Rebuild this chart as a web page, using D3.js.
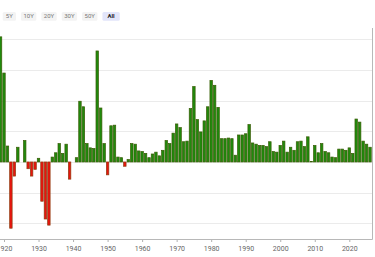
<!DOCTYPE html>
<html lang="en">
<head>
<meta charset="utf-8">
<style>
  body { margin: 0; background: #fff; font-family: Roboto, "Noto Sans", sans-serif; }
  svg { display: block; }
  .grid line { stroke: #ebebeb; stroke-width: 1; }
  .x.axis line { stroke: #b0b0b0; }
  .x.axis text { fill: #666; font-size: 7px; font-family: Roboto, sans-serif; }
  .baseline, .edge { stroke: #b8b8b8; stroke-width: 1; }
  .btn text { font-size: 6px; fill: #777; font-family: Roboto, sans-serif; }
  .btn.active text { fill: #222; font-weight: bold; }
</style>
</head>
<body>
<svg id="chart" width="375" height="257"></svg>
<script src="https://cdn.jsdelivr.net/npm/d3@7"></script>
<script>
// annual change, % (Dec to Dec), dated at year end
var years = d3.range(1918, 2026);
var values = [
  20.4, 14.5, 2.6, -10.8, -2.3, 2.4, 0.0, 3.5, -1.1, -2.3,
  -1.2, 0.6, -6.4, -9.3, -10.3, 0.8, 1.5, 3.0, 1.4, 2.9,
  -2.8, 0.0, 0.7, 9.9, 9.0, 3.0, 2.3, 2.2, 18.1, 8.8,
  3.0, -2.1, 5.9, 6.0, 0.8, 0.7, -0.7, 0.4, 3.0, 2.9,
  1.8, 1.7, 1.4, 0.7, 1.3, 1.6, 1.0, 1.9, 3.5, 3.0,
  4.7, 6.2, 5.6, 3.3, 3.4, 8.7, 12.3, 6.9, 4.9, 6.7,
  9.0, 13.3, 12.5, 8.9, 3.8, 3.8, 3.9, 3.8, 1.1, 4.4,
  4.4, 4.6, 6.1, 3.1, 2.9, 2.7, 2.7, 2.5, 3.3, 1.7,
  1.6, 2.7, 3.4, 1.6, 2.4, 1.9, 3.3, 3.4, 2.5, 4.1,
  0.1, 2.7, 1.5, 3.0, 1.7, 1.5, 0.8, 0.7, 2.1, 2.1,
  1.9, 2.3, 1.4, 7.0, 6.5, 3.4, 2.9, 2.4
];
var rangeLabels = ["5Y", "10Y", "20Y", "30Y", "50Y", "All"];
var selectedRange = "All";
var yTicks = [-10, -5, 0, 5, 10, 15, 20];
var xTickYears = d3.range(1920, 2021, 10);

var data = years.map(function(y, i) {
  return { date: new Date(y, 11, 31), value: values[i] };
});

var plotLeft = 0, plotRight = 372, plotTop = 28, plotBottom = 239;

var svg = d3.select("#chart");

var x = d3.scaleTime()
  .domain([new Date(1920, 0, 1), new Date(2020, 0, 1)])
  .range([4, 349.3]);

var y = d3.scaleLinear()
  .domain([-10, 20])
  .range([223.3, 39.3]);

var band = x(new Date(1921, 0, 1)) - x(new Date(1920, 0, 1));

svg.append("clipPath")
  .attr("id", "plot-clip")
  .append("rect")
  .attr("x", plotLeft)
  .attr("y", plotTop)
  .attr("width", plotRight - plotLeft)
  .attr("height", plotBottom - plotTop);

/* grid */
svg.append("g")
  .attr("class", "grid")
  .selectAll("line")
  .data(yTicks)
  .enter()
  .append("line")
  .attr("x1", plotLeft)
  .attr("x2", plotRight)
  .attr("y1", function(d) { return Math.round(y(d)) + 0.5; })
  .attr("y2", function(d) { return Math.round(y(d)) + 0.5; });

/* bars */
svg.append("g")
  .attr("clip-path", "url(#plot-clip)")
  .selectAll("rect")
  .data(data)
  .enter()
  .append("rect")
  .attr("x", function(d) { return x(d.date) - band / 2 + 0.5; })
  .attr("width", band - 1)
  .attr("y", function(d) { return y(Math.max(0, d.value)); })
  .attr("height", function(d) { return Math.abs(y(d.value) - y(0)); })
  .attr("fill", function(d) { return d.value >= 0 ? "#1f8a0c" : "#e8140e"; })
  .attr("stroke", function(d) { return d.value >= 0 ? "#3a5c06" : "#8e3c10"; })
  .attr("stroke-width", 0.7);

/* x axis */
var xAxis = d3.axisBottom(x)
  .tickValues(xTickYears.map(function(yr) { return new Date(yr, 0, 1); }))
  .tickFormat(d3.timeFormat("%Y"))
  .tickSize(3)
  .tickPadding(4);

var gx = svg.append("g")
  .attr("class", "x axis")
  .attr("transform", "translate(0," + plotBottom + ")")
  .call(xAxis);
gx.select(".domain").remove();

svg.append("line")
  .attr("class", "baseline")
  .attr("x1", plotLeft)
  .attr("x2", plotRight + 0.5)
  .attr("y1", plotBottom + 0.5)
  .attr("y2", plotBottom + 0.5);

svg.append("line")
  .attr("class", "edge")
  .attr("x1", plotRight + 0.5)
  .attr("x2", plotRight + 0.5)
  .attr("y1", plotTop)
  .attr("y2", plotBottom + 0.5);

/* range buttons */
var btnX = 2.7;
var btns = svg.append("g").attr("class", "buttons");
rangeLabels.forEach(function(label) {
  var g = btns.append("g")
    .attr("class", "btn" + (label === selectedRange ? " active" : ""));
  var rect = g.append("rect")
    .attr("y", 12)
    .attr("height", 8.7)
    .attr("rx", 1.5)
    .attr("fill", label === selectedRange ? "#e2e5fa" : "#f3f3f3");
  var t = g.append("text")
    .attr("y", 18.3)
    .attr("text-anchor", "middle")
    .text(label);
  var w = Math.max(13.3, t.node().getComputedTextLength() + 5);
  if (label === selectedRange) w += 4;
  rect.attr("x", btnX).attr("width", w);
  t.attr("x", btnX + w / 2);
  btnX += w + 5;
});
</script>
</body>
</html>
